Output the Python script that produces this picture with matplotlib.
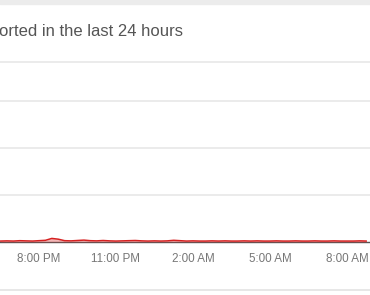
import numpy as np
import matplotlib.pyplot as plt

plt.rcParams['font.family'] = ['Liberation Sans', 'DejaVu Sans']

# hours after 8:00 PM, one sample every 15 minutes
hours = np.arange(-1.5, 13.0, 0.25)
reports = [0.10, 0.12, 0.10, 0.14, 0.12, 0.10, 0.14, 0.18, 0.38, 0.30, 0.14, 0.12,
           0.16, 0.20, 0.14, 0.12, 0.16, 0.12, 0.10, 0.12, 0.14, 0.16, 0.12, 0.10,
           0.12, 0.10, 0.12, 0.18, 0.14, 0.10, 0.12, 0.10, 0.10, 0.12, 0.10, 0.12,
           0.10, 0.10, 0.12, 0.10, 0.12, 0.10, 0.10, 0.12, 0.10, 0.10, 0.12, 0.10,
           0.10, 0.12, 0.10, 0.10, 0.12, 0.10, 0.10, 0.10, 0.12, 0.10]
tick_hours = [0, 3, 6, 9, 12]
tick_labels = ["8:00 PM", "11:00 PM", "2:00 AM", "5:00 AM", "8:00 AM"]
grid_values = [5, 10, 15]

fig = plt.figure(figsize=(3.7, 2.95), dpi=100)

# top band and bottom rule of the card
fig.patches.append(plt.Rectangle((0, 1 - 4 / 295), 1, 4 / 295, transform=fig.transFigure,
                                 color="#ececec", zorder=0))
fig.add_artist(plt.Line2D([0, 1], [1 - 290 / 295] * 2, color="#e3e3e3", lw=1.2))

fig.text(-0.003, 1 - 31 / 295, "orted in the last 24 hours", fontsize=12,
         color="#555555", va="center", ha="left")

ax = fig.add_axes([0, 53 / 295, 1, 180 / 295])
ax.set_xlim(-1.52, 12.9)
ax.set_ylim(0, 19.15)
for g in grid_values:
    ax.axhline(g, color="#e8e8e8", lw=1.2, zorder=1)
ax.axhline(19.15, color="#e8e8e8", lw=1.2, zorder=1, clip_on=False)

ax.axhline(0, color="#555555", lw=1.0, zorder=2, clip_on=False)
ax.fill_between(hours, 0, reports, color="#e03030", alpha=0.35, lw=0, zorder=2)
ax.plot(hours, reports, color="#d62020", lw=1.1, zorder=3, clip_on=False)

ax.set_xticks(tick_hours)
ax.set_xticklabels(tick_labels, fontsize=8.4, color="#777777")
ax.tick_params(axis="x", length=0, pad=8)
ax.set_yticks([])
for s in ax.spines.values():
    s.set_visible(False)

fig.savefig("out.png", dpi=100)
